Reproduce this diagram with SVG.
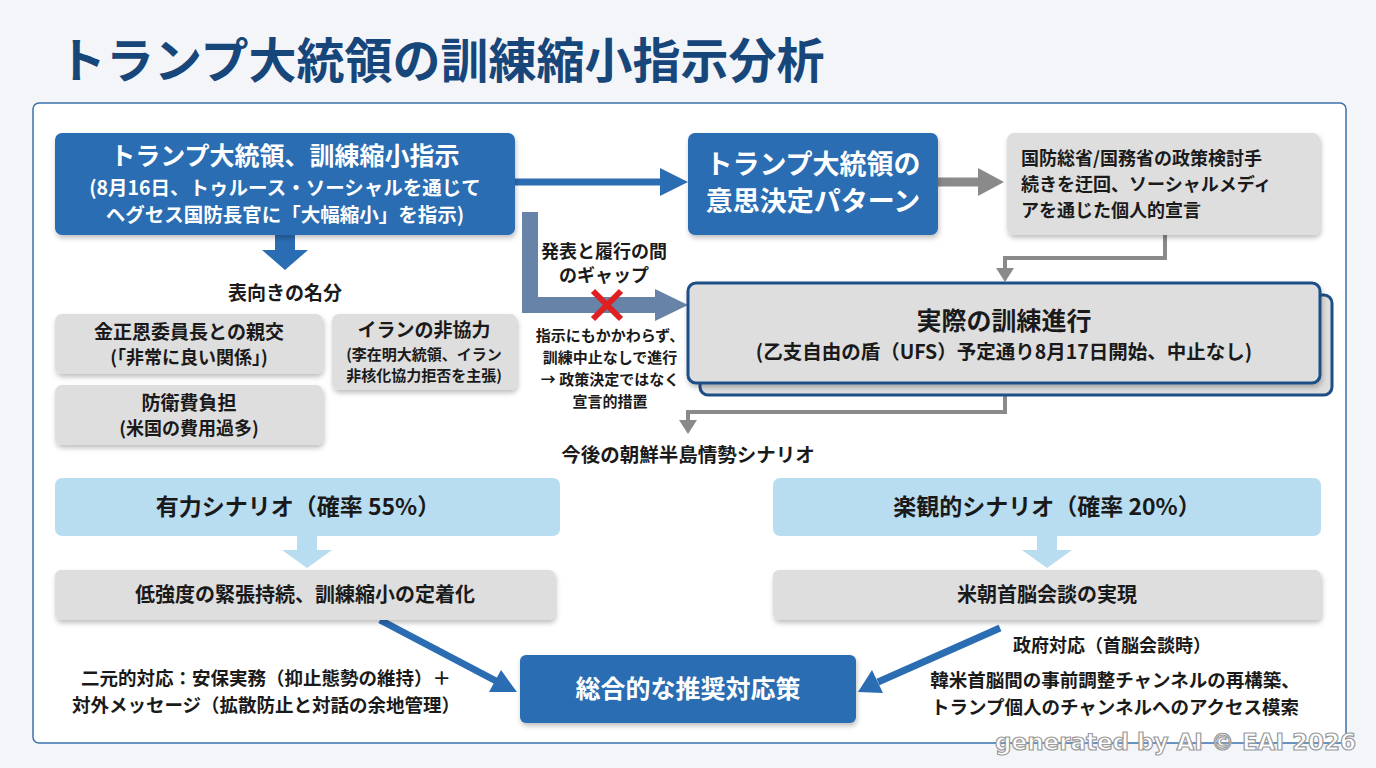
<svg xmlns="http://www.w3.org/2000/svg" width="1376" height="768" viewBox="0 0 1376 768">
<defs>
<style>
text{font-family:"Noto Sans CJK JP","Noto Sans",sans-serif;font-weight:bold;text-anchor:middle;fill:#1a1a1a}
.w{fill:#fff}
.blue{fill:#2b6db3}
.grey{fill:#dedede}
.lb{fill:#b8dcf0}
.ttl{fill:#17467a;text-anchor:start}
</style>
<filter id="sh" x="-10%" y="-10%" width="120%" height="130%"><feDropShadow dx="1" dy="3" stdDeviation="2.5" flood-opacity="0.25"/></filter>
</defs>
<rect width="1376" height="768" fill="#f3f5f8"/>
<text class="ttl" x="58" y="78" font-size="48">トランプ大統領の訓練縮小指示分析</text>
<rect x="33" y="103" width="1313" height="640" rx="6" fill="#fff" stroke="#3b72aa" stroke-width="1.5"/>

<g id="connectors">
<path d="M515,182 H665" stroke="#2b6db3" stroke-width="7" fill="none"/>
<path d="M688,182 L660,168 L660,196 z" fill="#2b6db3"/>
<path d="M938,182 H980" stroke="#8a8a8a" stroke-width="9" fill="none"/>
<path d="M1004,182 L978,168 L978,196 z" fill="#8a8a8a"/>
<path d="M1165,235 V258 H1005 V270" stroke="#8a8a8a" stroke-width="4" fill="none"/>
<path d="M1005,282 L996,268 L1014,268 z" fill="#8a8a8a"/>
<path d="M275,235 V250 H262 L285,270 L308,250 H295 V235 z" fill="#2b6db3"/>
<path d="M530,212 V305 H658" stroke="#6883a8" stroke-width="16" fill="none"/>
<path d="M688,305 L655,289 L655,321 z" fill="#6883a8"/>
<path d="M593,291 L621,319 M621,291 L593,319" stroke="#e02020" stroke-width="6"/>
<path d="M1005,383 V412 H688 V422" stroke="#8a8a8a" stroke-width="4" fill="none"/>
<path d="M688,434 L679,420 L697,420 z" fill="#8a8a8a"/>
<path d="M297,536 V550 H282 L307,568 L332,550 H317 V536 z" fill="#b8dcf0"/>
<path d="M1037,536 V550 H1022 L1047,568 L1072,550 H1057 V536 z" fill="#b8dcf0"/>
<path d="M380,620 L498,682" stroke="#2b6db3" stroke-width="7"/>
<path d="M517,692 L489,692 L501,670 z" fill="#2b6db3"/>
<path d="M1000,628 L878,682" stroke="#2b6db3" stroke-width="7"/>
<path d="M858,692 L872,670 L883,693 z" fill="#2b6db3"/>
</g>

<g id="nodeA"><rect class="blue" x="55" y="133" width="460" height="102" rx="7" filter="url(#sh)"/>
<text class="w" x="285" y="165" font-size="25">トランプ大統領、訓練縮小指示</text>
<text class="w" x="285" y="195" font-size="19.5">(8月16日、トゥルース・ソーシャルを通じて</text>
<text class="w" x="285" y="222" font-size="19.5">ヘグセス国防長官に「大幅縮小」を指示)</text></g>

<text x="285" y="300" font-size="19">表向きの名分</text>
<g id="nodeB1"><rect class="grey" x="55" y="314" width="268" height="60" rx="7" filter="url(#sh)"/>
<text x="189" y="339" font-size="19">金正恩委員長との親交</text>
<text x="189" y="364" font-size="18">(「非常に良い関係」)</text></g>
<g id="nodeB2"><rect class="grey" x="55" y="385" width="268" height="60" rx="7" filter="url(#sh)"/>
<text x="189" y="410" font-size="19">防衛費負担</text>
<text x="189" y="435" font-size="18">(米国の費用過多)</text></g>
<g id="nodeB3"><rect class="grey" x="332" y="314" width="185" height="76" rx="7" filter="url(#sh)"/>
<text x="424" y="337" font-size="19">イランの非協力</text>
<text x="424" y="360" font-size="15">(李在明大統領、イラン</text>
<text x="424" y="381" font-size="15">非核化協力拒否を主張)</text></g>

<g id="nodeC"><rect class="blue" x="688" y="133" width="250" height="102" rx="7" filter="url(#sh)"/>
<text class="w" x="813" y="174" font-size="27">トランプ大統領の</text>
<text class="w" x="813" y="211" font-size="27">意思決定パターン</text></g>

<g id="nodeD"><rect class="grey" x="1007" y="133" width="313" height="102" rx="7" filter="url(#sh)"/>
<text x="1021" y="165" font-size="18" style="text-anchor:start">国防総省/国務省の政策検討手</text>
<text x="1021" y="191" font-size="18" style="text-anchor:start">続きを迂回、ソーシャルメディ</text>
<text x="1021" y="217" font-size="18" style="text-anchor:start">アを通じた個人的宣言</text></g>

<g id="nodeE"><rect x="700" y="295" width="632" height="100" rx="8" fill="#dedede" stroke="#1e4f86" stroke-width="3"/>
<rect x="688" y="283" width="632" height="100" rx="8" fill="#dedede" stroke="#1e4f86" stroke-width="3" filter="url(#sh)"/>
<text x="1004" y="330" font-size="25">実際の訓練進行</text>
<text x="1004" y="359" font-size="19.5">(乙支自由の盾（UFS）予定通り8月17日開始、中止なし)</text></g>

<g id="gaplabels">
<text x="604" y="258" font-size="18">発表と履行の間</text>
<text x="604" y="282" font-size="18">のギャップ</text>
<text x="610" y="341" font-size="15">指示にもかかわらず、</text>
<text x="610" y="363" font-size="15">訓練中止なしで進行</text>
<text x="610" y="385" font-size="15">→ 政策決定ではなく</text>
<text x="610" y="407" font-size="15">宣言的措置</text></g>

<text x="688" y="462" font-size="19.5">今後の朝鮮半島情勢シナリオ</text>

<g id="nodeF1"><rect class="lb" x="55" y="478" width="505" height="58" rx="7"/>
<text x="298" y="515" font-size="23">有力シナリオ（確率 55%）</text></g>
<g id="nodeG1"><rect class="grey" x="55" y="570" width="500" height="50" rx="6" filter="url(#sh)"/>
<text x="305" y="602" font-size="20">低強度の緊張持続、訓練縮小の定着化</text></g>
<g id="nodeF2"><rect class="lb" x="773" y="478" width="548" height="58" rx="7"/>
<text x="1047" y="515" font-size="23">楽観的シナリオ（確率 20%）</text></g>
<g id="nodeG2"><rect class="grey" x="773" y="570" width="548" height="50" rx="6" filter="url(#sh)"/>
<text x="1047" y="602" font-size="20">米朝首脳会談の実現</text></g>

<g id="nodeH"><rect class="blue" x="520" y="655" width="336" height="68" rx="6" filter="url(#sh)"/>
<text class="w" x="688" y="698" font-size="25">総合的な推奨対応策</text></g>

<text x="266" y="685" font-size="18.5">二元的対応：安保実務（抑止態勢の維持）＋</text>
<text x="266" y="712" font-size="18.5">対外メッセージ（拡散防止と対話の余地管理）</text>
<text x="1112" y="652" font-size="18">政府対応（首脳会談時）</text>
<text x="1115" y="687" font-size="18.5">韓米首脳間の事前調整チャンネルの再構築、</text>
<text x="1115" y="714" font-size="18.5">トランプ個人のチャンネルへのアクセス模索</text>

<text x="1356" y="750" font-size="23" style="text-anchor:end;fill:#fff;stroke:#9a9a9a;stroke-width:1.2;font-family:'DejaVu Sans',sans-serif">generated by AI © EAI 2026</text>
</svg>
